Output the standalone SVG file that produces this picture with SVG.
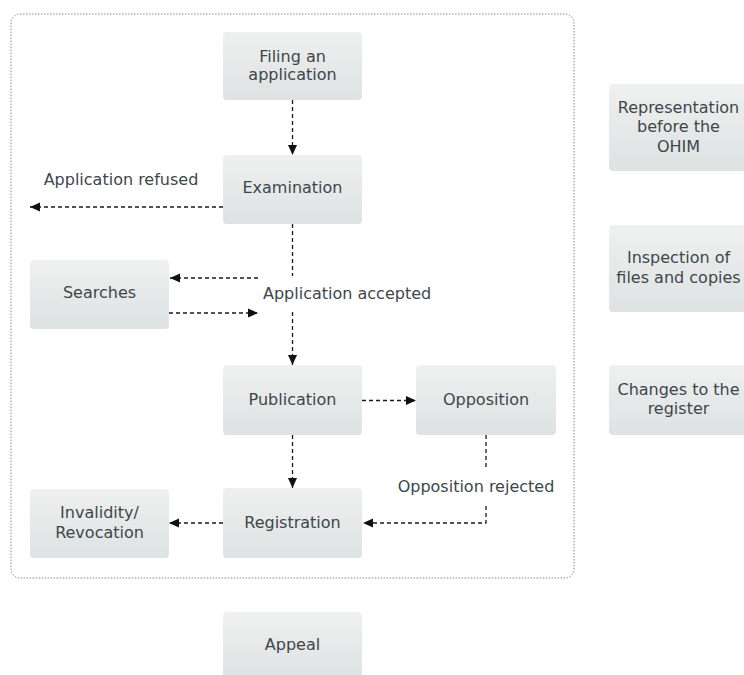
<svg xmlns="http://www.w3.org/2000/svg" width="744" height="675" viewBox="0 0 744 675">
<style>
.box{fill:url(#g);}
.t{font-family:"DejaVu Sans","Verdana",sans-serif;font-size:16px;fill:#3e464b;}
.m{text-anchor:middle;}
.c{fill:none;stroke:#1a1a1a;stroke-width:1.3;stroke-dasharray:4,3;}
.a{marker-end:url(#ah);}
</style>
<defs>
<linearGradient id="g" x1="0" y1="0" x2="0" y2="1">
<stop offset="0" stop-color="#eff0f0"/>
<stop offset="1" stop-color="#dee2e2"/>
</linearGradient>
<marker id="ah" markerUnits="userSpaceOnUse" markerWidth="11" markerHeight="10" refX="10" refY="5" orient="auto">
<path d="M0,0.5 L10,5 L0,9.5 z" fill="#111"/>
</marker>
</defs>
<rect x="11" y="14" width="563" height="564" rx="9" fill="none" stroke="#8a8a8a" stroke-width="1" stroke-dasharray="1.5,1.5"/>
<g id="connectors">
<path class="c a" d="M292.5,100 V155"/>
<path class="c a" d="M223,207 H30"/>
<path class="c" d="M292.5,224 V276"/>
<path class="c a" d="M292.5,312 V365"/>
<path class="c a" d="M258,278 H170"/>
<path class="c a" d="M169,313 H258"/>
<path class="c a" d="M362,400.5 H416"/>
<path class="c a" d="M292.5,435 V488"/>
<path class="c" d="M486,435 V469"/>
<path class="c a" d="M486,506 V523 H363"/>
<path class="c a" d="M223,523 H169"/>
</g>
<g id="labels">
<text class="t m" x="121" y="185">Application refused</text>
<text class="t" x="263" y="299">Application accepted</text>
<text class="t m" x="476" y="492">Opposition rejected</text>
</g>
<g id="filing"><rect class="box" x="223" y="32" width="139" height="68" rx="4"/><text class="t m" x="292.5" y="62">Filing an</text><text class="t m" x="292.5" y="80">application</text></g>
<g id="examination"><rect class="box" x="223" y="155" width="139" height="69" rx="4"/><text class="t m" x="292.5" y="193">Examination</text></g>
<g id="searches"><rect class="box" x="30" y="260" width="139" height="69" rx="4"/><text class="t m" x="99.5" y="298">Searches</text></g>
<g id="publication"><rect class="box" x="223" y="365" width="139" height="70" rx="4"/><text class="t m" x="292.5" y="405">Publication</text></g>
<g id="opposition"><rect class="box" x="416" y="365" width="140" height="70" rx="4"/><text class="t m" x="486" y="405">Opposition</text></g>
<g id="registration"><rect class="box" x="223" y="488" width="139" height="70" rx="4"/><text class="t m" x="292.5" y="528">Registration</text></g>
<g id="invalidity"><rect class="box" x="30" y="489" width="139" height="69" rx="4"/><text class="t m" x="99.5" y="518">Invalidity/</text><text class="t m" x="99.5" y="538">Revocation</text></g>
<g id="appeal"><rect class="box" x="223" y="612" width="139" height="70" rx="4"/><text class="t m" x="292.5" y="650">Appeal</text></g>
<g id="representation"><rect class="box" x="609" y="84" width="139" height="87" rx="4"/><text class="t m" x="678.5" y="113">Representation</text><text class="t m" x="678.5" y="132">before the</text><text class="t m" x="678.5" y="152">OHIM</text></g>
<g id="inspection"><rect class="box" x="609" y="225" width="139" height="87" rx="4"/><text class="t m" x="678.5" y="263">Inspection of</text><text class="t m" x="678.5" y="283">files and copies</text></g>
<g id="changes"><rect class="box" x="609" y="365" width="139" height="70" rx="4"/><text class="t m" x="678.5" y="395">Changes to the</text><text class="t m" x="678.5" y="414">register</text></g>
</svg>
